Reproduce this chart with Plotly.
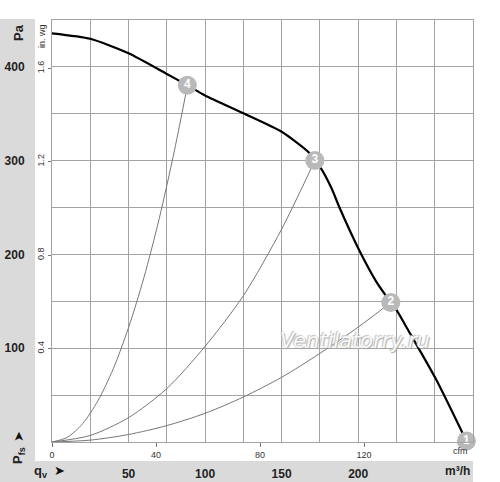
import plotly.graph_objects as go

# ---- data (m³/h, Pa) ----
fan_q = [0, 25, 50, 75, 88.4, 100, 125, 150, 167.3, 171.7, 175.4, 182.6, 188, 200.6, 212, 221.3, 225, 232.6, 251.1, 270.7]
fan_p = [435.8, 430, 414.5, 392.5, 380.5, 369.5, 350.5, 330.9, 309.6, 300.2, 292.5, 270.5, 249.2, 204.7, 170.5, 148.8, 140.8, 119.4, 66.1, 1]

sys4_q = [0, 10, 20, 30, 40, 50, 60, 70, 80, 88.4]
sys4_p = [0, 5, 19.5, 44, 78, 122, 175, 238, 311, 379.6]
sys3_q = [0, 25, 50, 75, 100, 125, 150, 171.7]
sys3_p = [0, 7, 26, 57, 102, 156, 227, 300.2]
sys2_q = [0, 25, 50, 75, 100, 125, 150, 175, 200, 221.3]
sys2_p = [0, 2, 8, 17.5, 30.6, 48, 69, 94.5, 122.5, 148.8]

point_q = [270.7, 221.3, 171.7, 88.4]
point_p = [1, 148.8, 300.2, 380.5]
point_lbl = ["1", "2", "3", "4"]

x_grid = list(range(0, 276, 25))
x_lbl = {50: "50", 100: "100", 150: "150", 200: "200"}
y_grid = list(range(0, 451, 50))
y_lbl = {100: "100", 200: "200", 300: "300", 400: "400"}
cfm_ticks = [0, 40, 80, 120]
inwg_ticks = [0.4, 0.8, 1.2, 1.6]

M3H_PER_CFM = 1.699
PA_PER_INWG = 249.09

W, H = 500, 482
L, R, T, B = 52, 27, 20, 40
PW, PH = W - L - R, H - T - B


def px(x):
    return (x - L) / PW


def py(y):
    return (H - B - y) / PH


GRID = "#a3a3a3"
BAND = "#dadada"
FONT = "Liberation Sans, Arial, sans-serif"

fig = go.Figure()
for q, p in [(sys4_q, sys4_p), (sys3_q, sys3_p), (sys2_q, sys2_p)]:
    fig.add_trace(go.Scatter(x=q, y=p, mode="lines", line=dict(color="#777777", width=1, shape="spline", smoothing=0.8),
                             hoverinfo="skip", showlegend=False))
fig.add_trace(go.Scatter(x=fan_q, y=fan_p, mode="lines", line=dict(color="black", width=2.2, shape="spline", smoothing=0.6),
                         showlegend=False))
fig.add_trace(go.Scatter(x=point_q, y=point_p, mode="markers+text", text=point_lbl, textposition="middle center",
                         textfont=dict(color="white", size=12, family=FONT, weight="bold"),
                         marker=dict(size=19, color="#b9b9b9", line=dict(width=0)), cliponaxis=False, showlegend=False))
# helper traces so that the secondary axes are drawn
fig.add_trace(go.Scatter(x=[0], y=[0], xaxis="x2", yaxis="y", mode="markers", marker=dict(opacity=0),
                         hoverinfo="skip", showlegend=False))
fig.add_trace(go.Scatter(x=[0], y=[0], xaxis="x", yaxis="y2", mode="markers", marker=dict(opacity=0),
                         hoverinfo="skip", showlegend=False))

fig.update_layout(
    width=W, height=H, margin=dict(l=L, r=R, t=T, b=B, autoexpand=False),
    paper_bgcolor="white", plot_bgcolor="white",
    font=dict(family=FONT, color="#222222"),
    xaxis=dict(range=[0, 275], tickvals=x_grid, ticktext=["<b>%s</b>" % x_lbl.get(v, "") for v in x_grid],
               showgrid=True, gridcolor=GRID, gridwidth=1, zeroline=False, showline=True, linecolor=GRID,
               mirror=True, ticks="", tickangle=0, automargin=False,
               tickfont=dict(size=12, color="#222"), ticklabelstandoff=21),
    xaxis2=dict(overlaying="x", anchor="y", side="bottom", range=[0, 275 / M3H_PER_CFM], tickvals=cfm_ticks,
                ticks="outside", ticklen=4, tickcolor="#777", showgrid=False, zeroline=False, showline=False,
                tickangle=0, automargin=False, tickfont=dict(size=9, color="#333")),
    yaxis=dict(range=[0, 450], tickvals=y_grid, ticktext=["<b>%s</b>" % y_lbl.get(v, "") for v in y_grid],
               showgrid=True, gridcolor=GRID, gridwidth=1, zeroline=False, showline=True, linecolor=GRID,
               mirror=True, ticks="", automargin=False,
               tickfont=dict(size=12, color="#222"), ticklabelstandoff=24),
    yaxis2=dict(overlaying="y", anchor="x", side="left", range=[0, 450 / PA_PER_INWG], tickvals=inwg_ticks,
                ticktext=["0.4", "0.8", "1.2", "1.6"], tickangle=-90, ticks="outside", ticklen=3, tickcolor="#777",
                showgrid=False, zeroline=False, showline=False, automargin=False,
                tickfont=dict(size=9, color="#333")),
    shapes=[
        dict(type="rect", xref="paper", yref="paper", x0=px(0), x1=px(35), y0=py(482), y1=py(19),
             fillcolor=BAND, line=dict(width=0), layer="below"),
        dict(type="rect", xref="paper", yref="paper", x0=px(0), x1=px(473), y0=py(482), y1=py(461),
             fillcolor=BAND, line=dict(width=0), layer="below"),
    ],
)

ann = [
    dict(text="<b>Pa</b>", x=px(18), y=py(33), textangle=-90, font=dict(size=13)),
    dict(text="in. wg", x=px(42), y=py(36), textangle=-90, font=dict(size=9, color="#333")),
    dict(text="<b>P<sub>fs</sub></b>", x=px(18), y=py(456), textangle=-90, font=dict(size=13)),
    dict(text="➤", x=px(18), y=py(437), textangle=-90, font=dict(size=13, family="DejaVu Sans", color="#111")),
    dict(text="<b>q<sub>v</sub></b>", x=px(41), y=py(471), font=dict(size=13)),
    dict(text="➤", x=px(59), y=py(470), font=dict(size=13, family="DejaVu Sans", color="#111")),
    dict(text="<b>m³/h</b>", x=px(457), y=py(471), font=dict(size=12)),
    dict(text="cfm", x=px(460), y=py(451), font=dict(size=9, color="#333")),
    dict(text="<i>Ventilatorry.ru</i>", x=px(355), y=py(341),
         font=dict(size=21, family="DejaVu Sans", color="#f8f8f8",
                   shadow="1px 1px 1px #a8a8a8, -1px -1px 1px #c4c4c4")),
]
for a in ann:
    a.update(xref="paper", yref="paper", showarrow=False, xanchor="center", yanchor="middle")
fig.update_layout(annotations=ann)

fig.write_html("out.html", config={"displayModeBar": False},
               post_script="document.body.style.margin='0';document.body.style.padding='0';"
                           "document.body.style.overflow='hidden';")
